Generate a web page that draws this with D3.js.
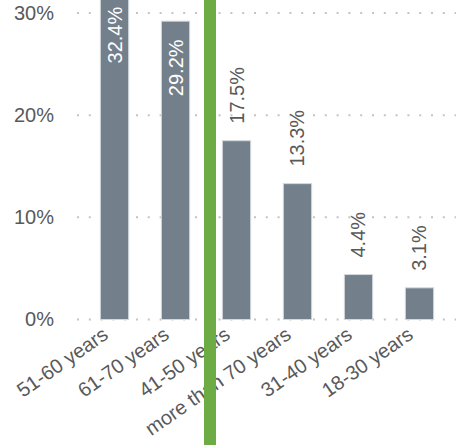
<!DOCTYPE html>
<html><head><meta charset="utf-8">
<script src="https://cdn.jsdelivr.net/npm/d3@7"></script>
<style>html,body{margin:0;padding:0;background:#fff;overflow:hidden}</style>
</head><body>
<svg id="c" width="456" height="445"></svg>
<script>
const categories = ["51-60 years","61-70 years","41-50 years","more than 70 years","31-40 years","18-30 years"];
const values = [32.4, 29.2, 17.5, 13.3, 4.4, 3.1];
const yTicks = [0, 10, 20, 30];

const svg = d3.select("#c");
const font = "'Liberation Sans', Arial, sans-serif";
const x = d3.scaleBand().domain(categories).range([77, 457]).paddingInner(0.536).paddingOuter(0.383);
const y = d3.scaleLinear().domain([0, 30]).range([319.5, 13]);

// gridlines
svg.append("g").selectAll("line").data(yTicks).join("line")
  .attr("x1", 77).attr("x2", 456)
  .attr("y1", d => y(d)).attr("y2", d => y(d))
  .attr("stroke", "#c4c4c4").attr("stroke-width", 2)
  .attr("stroke-dasharray", "2,9.8");

// y labels
const yAxis = d3.axisLeft(y).tickValues(yTicks).tickFormat(d => d + "%").tickSize(0).tickPadding(0);
const ya = svg.append("g").attr("transform", "translate(54,0)").call(yAxis);
ya.select(".domain").remove();
ya.selectAll("text").attr("font-family", font).attr("font-size", 20).attr("fill", "#595959");

// bars
svg.append("g").selectAll("rect").data(values).join("rect")
  .attr("x", (d, i) => x(categories[i]))
  .attr("width", x.bandwidth())
  .attr("y", d => y(d))
  .attr("height", d => y(0) - y(d))
  .attr("fill", "#73808c")
  .attr("stroke", "#d3d8dc").attr("stroke-width", 1);

// value labels
svg.append("g").selectAll("text").data(values).join("text")
  .attr("transform", (d, i) => {
    const cx = x(categories[i]) + x.bandwidth() / 2;
    const yy = d > 20 ? y(d) + 17 + 58 : y(d) - 17;
    return `translate(${cx},${yy}) rotate(-90)`;
  })
  .attr("text-anchor", "start")
  .attr("dy", "0.35em")
  .attr("font-family", font).attr("font-size", 20)
  .attr("fill", d => d > 20 ? "#ffffff" : "#595959")
  .text(d => d.toFixed(1) + "%");

// x labels
const xAxis = d3.axisBottom(x).tickSize(0).tickPadding(0);
const xa = svg.append("g").attr("transform", `translate(0,${y(0)})`).call(xAxis);
xa.select(".domain").remove();
xa.selectAll("text")
  .attr("font-family", font).attr("font-size", 20).attr("fill", "#595959")
  .attr("text-anchor", "end")
  .attr("dy", null).attr("y", null)
  .attr("transform", "translate(-5,18) rotate(-35)");

// green marker
svg.append("rect").attr("x", 204).attr("y", 0).attr("width", 12).attr("height", 445).attr("fill", "#6dab45");
</script>
</body></html>
